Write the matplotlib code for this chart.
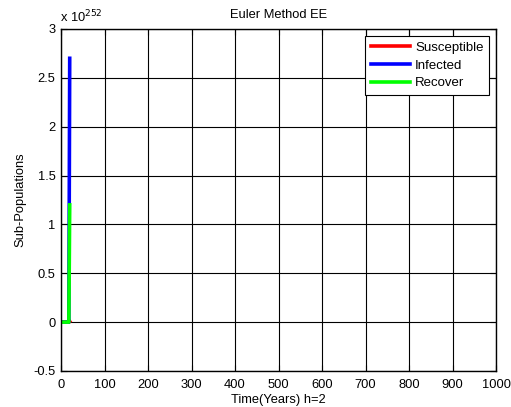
import matplotlib
matplotlib.use('Agg')
import matplotlib.pyplot as plt
import numpy as np

plt.rcParams['font.family'] = ['Liberation Sans', 'DejaVu Sans']
plt.rcParams['font.size'] = 9.3

# time steps (h=2) and the three sub-populations (blow up at the end)
t = [0, 2, 4, 6, 8, 10, 12, 14, 16, 18, 20]
S = [0.99, 0.97, 0.9, 0.6, -0.5, 1e3, -1e8, 1e20, -1e45, 1e100, 7e249]
I = [0.01, 0.03, 0.1, 0.4, 1.5, 2e3, 3e8, 5e19, 2e45, 5e100, 2.7e252]
R = [0.0, 0.01, 0.02, 0.1, 0.5, 1e3, 1e8, 2e19, 1e45, 2e100, 1.2e252]
scale = 1e252

xticks = list(range(0, 1001, 100))
yticks = [-0.5, 0, 0.5, 1, 1.5, 2, 2.5, 3]
yticklabels = ['-0.5', '0', '0.5', '1', '1.5', '2', '2.5', '3']

fig = plt.figure(figsize=(5.11, 4.07), dpi=100)
ax = fig.add_axes([0.1194, 0.0885, 0.8513, 0.8403])

ax.plot(t, np.array(S) / scale, color='#ff0000', lw=2.6, label='Susceptible')
ax.plot(t, np.array(I) / scale, color='#0000ff', lw=2.6, label='Infected')
ax.plot(t, np.array(R) / scale, color='#00ff00', lw=2.6, label='Recover')

ax.set_xlim(0, 1000)
ax.set_ylim(-0.5, 3)
ax.set_xticks(xticks)
ax.set_yticks(yticks)
ax.set_yticklabels(yticklabels)
ax.grid(True, color='k', lw=0.8, ls='-')
ax.set_axisbelow(True)
ax.tick_params(direction='in', top=True, right=True, length=4, labelsize=9.3)
ax.tick_params(axis='x', pad=6)
ax.tick_params(axis='y', pad=4)
for s in ax.spines.values():
    s.set_linewidth(1.0)

ax.set_title('Euler Method EE', fontsize=9.3, pad=8)
ax.set_xlabel('Time(Years) h=2', fontsize=9.3, labelpad=2)
ax.set_ylabel('Sub-Populations', fontsize=9.3, labelpad=5)
ax.text(-0.002, 1.012, r'x 10$^{252}$', transform=ax.transAxes, fontsize=9.3,
        ha='left', va='bottom')

leg = ax.legend(loc='upper right', fontsize=9.5, fancybox=False, framealpha=1,
                edgecolor='k', handlelength=3.0, borderaxespad=0.5,
                labelspacing=0.42, handletextpad=0.35, borderpad=0.45)
leg.get_frame().set_linewidth(0.8)

fig.savefig('out.png', dpi=100)
